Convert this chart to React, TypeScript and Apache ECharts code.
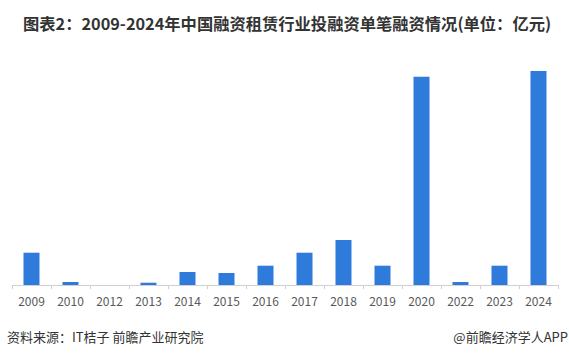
import React, { useEffect, useRef } from "react";
import * as echarts from "echarts";

const years = ["2009", "2010", "2012", "2013", "2014", "2015", "2016", "2017", "2018", "2019", "2020", "2022", "2023", "2024"];
const amounts = [3.23, 0.3, 0, 0.23, 1.3, 1.2, 1.93, 3.23, 4.5, 1.93, 20.83, 0.3, 1.93, 21.4];

const titleText = "图表2：2009-2024年中国融资租赁行业投融资单笔融资情况(单位：亿元)";
const sourceText = "资料来源：IT桔子 前瞻产业研究院";
const brandText = "@前瞻经济学人APP";
const watermarkText = "前瞻产业研究院";

export default function App() {
  const ref = useRef<HTMLDivElement>(null);
  useEffect(() => {
    if (!ref.current) return;
    const chart = echarts.init(ref.current, undefined, { renderer: "svg" });
    const font = '"Noto Sans CJK SC", "Noto Sans", sans-serif';
    chart.setOption({
      animation: false,
      backgroundColor: "#ffffff",
      title: {
        text: titleText,
        left: 18,
        top: 10,
        textStyle: { fontSize: 16.3, fontWeight: "bold", color: "#333333", fontFamily: font },
      },
      grid: { left: 12, right: 11, top: 45, bottom: 74, containLabel: false },
      xAxis: {
        type: "category",
        data: years,
        axisLine: { lineStyle: { color: "#d0d0d0" } },
        axisTick: { show: true, length: 4, lineStyle: { color: "#d0d0d0" } },
        axisLabel: { color: "#595959", fontSize: 12, margin: 9, fontFamily: font, interval: 0 },
      },
      yAxis: {
        type: "value",
        min: 0,
        max: 24,
        show: false,
        splitLine: { show: false },
      },
      series: [
        {
          type: "bar",
          data: amounts,
          barWidth: 16,
          itemStyle: { color: "#2e7bdc" },
        },
      ],
      graphic: [
        {
          type: "text",
          left: 7,
          top: 330,
          style: { text: sourceText, fontSize: 13, fill: "#333333", fontFamily: font },
        },
        {
          type: "text",
          right: 1,
          top: 330,
          style: { text: brandText, fontSize: 13, fill: "#333333", fontFamily: font },
        },
        {
          type: "text",
          x: 82,
          y: 178,
          rotation: Math.PI / 6,
          style: { text: watermarkText, fontSize: 28, fill: "rgba(0,0,0,0.022)", fontFamily: font, fontWeight: "bold" },
        },
      ],
    });
    return () => chart.dispose();
  }, []);
  return <div ref={ref} style={{ position: "fixed", left: 0, top: 0, width: 569, height: 359 }} />;
}
